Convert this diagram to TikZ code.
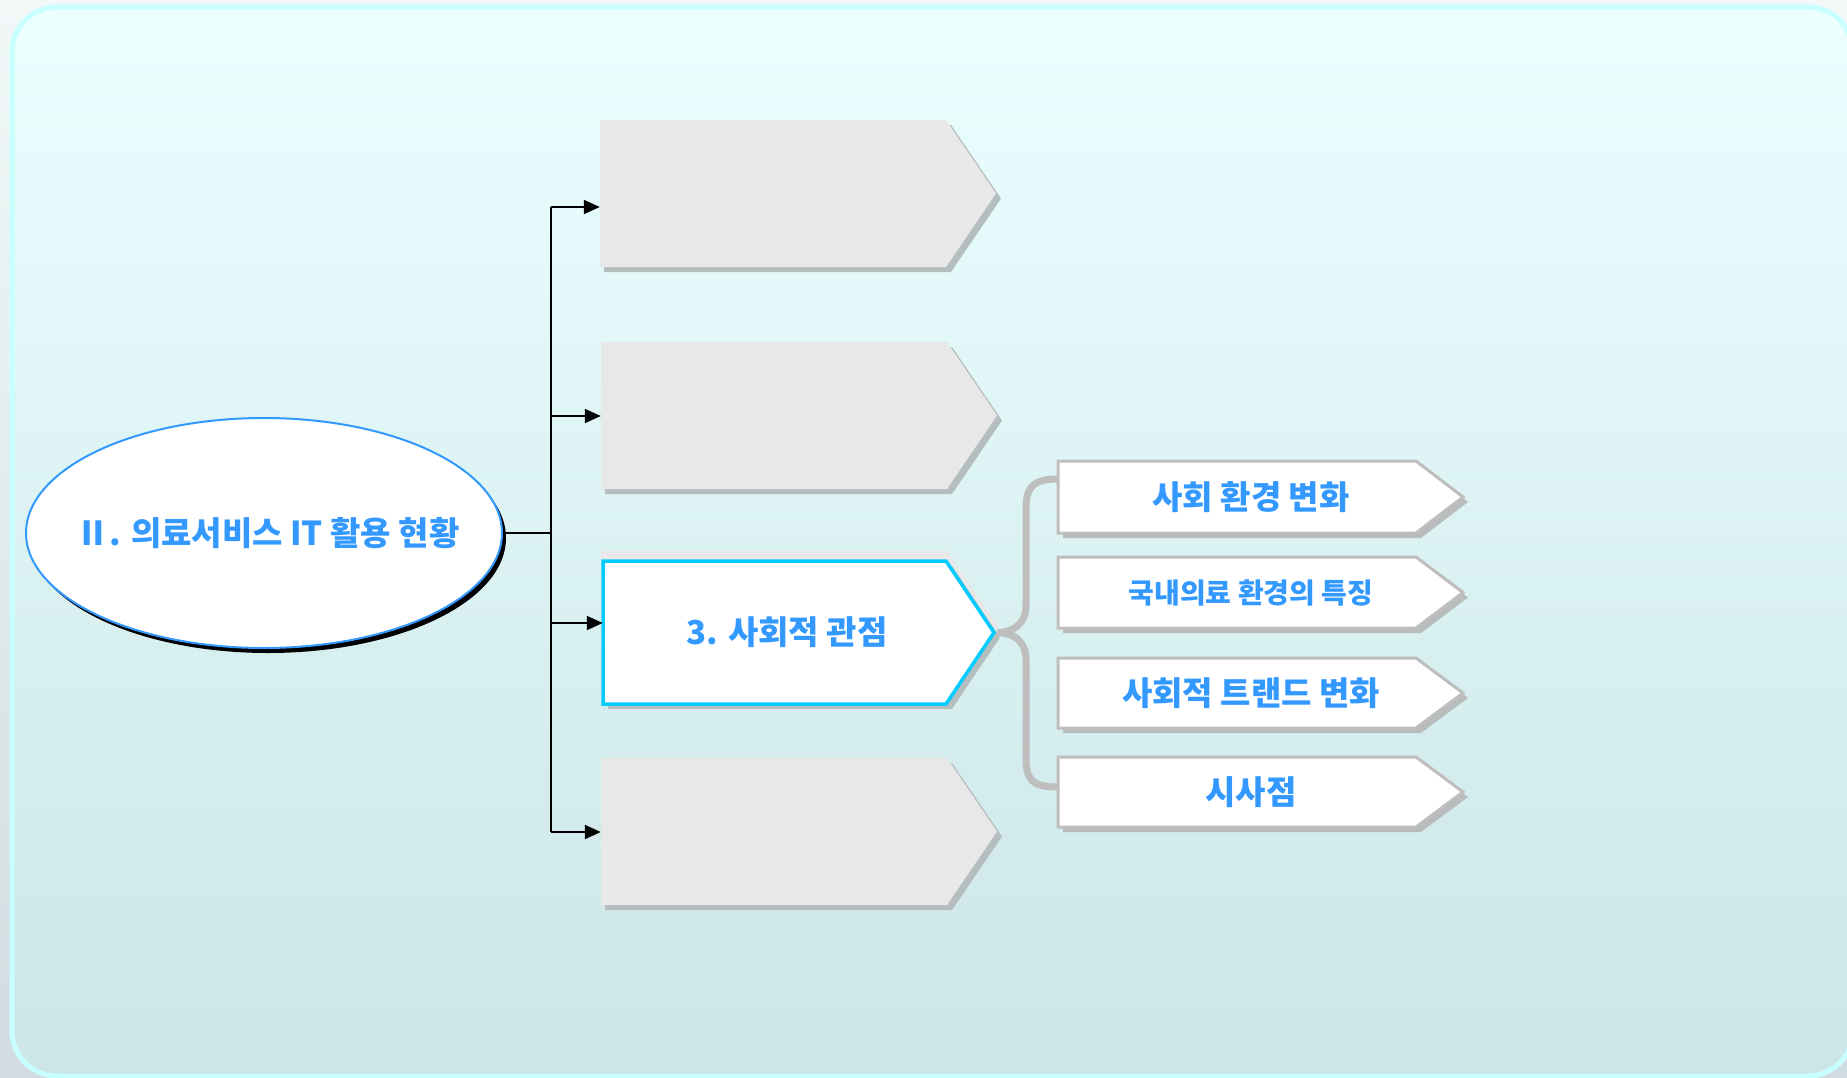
\documentclass[tikz,border=0pt]{standalone}
\usepackage{fontspec}
\newfontfamily\kr{Noto Sans CJK KR}
\usetikzlibrary{arrows.meta,shapes.geometric,calc}
\definecolor{txtblue}{HTML}{3399FF}
\definecolor{cyanb}{HTML}{00CCFF}
\definecolor{ellb}{HTML}{3399FF}
\definecolor{frame}{HTML}{C8FFFF}
\definecolor{bgtop}{HTML}{EBFFFF}
\definecolor{bgbot}{HTML}{CCE5E7}
\definecolor{outtop}{HTML}{F2F8F8}
\definecolor{outbot}{HTML}{D0DCE0}
\definecolor{boxgray}{HTML}{E8E8E8}
\definecolor{shadowgray}{HTML}{B4BEBE}
\definecolor{rgray}{HTML}{BEBEBE}
\definecolor{shadowtwo}{HTML}{B8BCBC}
\newcommand\mypenta[6]{\path[#6] (#1,#4) -- (#2,#4) -- (#3,{(#4+#5)/2}) -- (#2,#5) -- (#1,#5) -- cycle;}
\tikzset{
  conn/.style={line width=1.8pt, draw=black},
  arr/.style={conn, -{Triangle[length=16pt,width=14pt]}},
  holder/.style={draw=none, inner sep=0pt, rectangle},
  lbl/.style={text=txtblue, font=\kr\bfseries\fontsize{33}{38}\selectfont},
  lblsmall/.style={text=txtblue, font=\kr\bfseries\fontsize{28}{32}\selectfont},
  bracestyle/.style={line width=7pt, draw=rgray}
}
\begin{document}
\begin{tikzpicture}[x=1pt,y=-1pt]
\useasboundingbox (0,0) rectangle (1847,1078);
% page background
\fill[top color=outtop,bottom color=outbot] (0,0) rectangle (1847,1078);
\draw[line width=5pt, draw=frame, top color=bgtop, bottom color=bgbot, rounded corners=45pt] (12,7) rectangle (1853,1076);

% ellipse
\fill[black] (268,538) ellipse [x radius=238, y radius=115];
\node[ellipse, draw=ellb, line width=2pt, fill=white, minimum width=476pt, minimum height=230pt, inner sep=0pt] (ell) at (264,533) {};
\node[text=txtblue, font=\kr\bfseries\fontsize{33}{38}\selectfont] (ellt) at (268,533) {Ⅱ. 의료서비스 IT 활용 현황};

% grey boxes
\mypenta{604}{951}{1001}{125}{272}{fill=shadowgray}
\mypenta{600}{946}{996}{120}{267}{fill=boxgray}
\node[holder, minimum width=346pt, minimum height=147pt] (b1) at (773,193.5) {};

\mypenta{605}{952}{1002}{347}{494}{fill=shadowgray}
\mypenta{601}{947}{997}{342}{489}{fill=boxgray}
\node[holder, minimum width=346pt, minimum height=147pt] (b2) at (774,415.5) {};

\mypenta{605}{952}{1002}{763}{910}{fill=shadowgray}
\mypenta{601}{947}{997}{758}{905}{fill=boxgray}
\node[holder, minimum width=346pt, minimum height=147pt] (b4) at (774,831.5) {};

% highlighted box 3
\mypenta{601}{947}{997}{551}{698}{fill=boxgray}
\mypenta{608}{952}{1000}{566}{709}{fill=shadowgray}
\mypenta{603}{946}{994}{561}{704}{fill=white, draw=cyanb, line width=3.5pt}
\node[holder, text=txtblue, font=\kr\bfseries\fontsize{33}{38}\selectfont, minimum width=368pt, minimum height=143pt] (b3) at (787,632.5) {3. 사회적 관점};
\coordinate (b3tip) at (997,632.5);

% connectors
\coordinate (j) at (551,533);
\coordinate (v1) at (551,207);
\coordinate (v2) at (551,416);
\coordinate (v3) at (551,623);
\coordinate (v4) at (551,832);
\draw[conn] (ell.east) -- (j);
\draw[conn] (v1) -- (v4);
\draw[arr] (v1) -- (v1 -| b1.west);
\draw[arr] (v2) -- (v2 -| b2.west);
\draw[arr] (v3) -- (v3 -| b3.west);
\draw[arr] (v4) -- (v4 -| b4.west);

% right boxes
\mypenta{1063}{1421}{1468}{466}{538}{fill=shadowtwo}
\mypenta{1058}{1416}{1463}{461}{533}{fill=white, draw=rgray, line width=3pt}
\node[holder, lbl, minimum width=386pt, minimum height=72pt] (r1) at (1251,497) {사회 환경 변화};

\mypenta{1063}{1421}{1468}{562}{633}{fill=shadowtwo}
\mypenta{1058}{1416}{1463}{557}{628}{fill=white, draw=rgray, line width=3pt}
\node[holder, lblsmall, minimum width=386pt, minimum height=71pt] (r2) at (1251,592.5) {국내의료 환경의 특징};

\mypenta{1063}{1421}{1468}{663}{733}{fill=shadowtwo}
\mypenta{1058}{1416}{1463}{658}{728}{fill=white, draw=rgray, line width=3pt}
\node[holder, lbl, minimum width=386pt, minimum height=70pt] (r3) at (1251,693) {사회적 트랜드 변화};

\mypenta{1063}{1421}{1468}{762}{832}{fill=shadowtwo}
\mypenta{1058}{1416}{1463}{757}{827}{fill=white, draw=rgray, line width=3pt}
\node[holder, lbl, minimum width=386pt, minimum height=70pt] (r4) at (1251,792) {시사점};

% brace
\draw[bracestyle] ([yshift=18pt]r1.west) .. controls (1030,479) and (1026,490) .. (1026,510) -- (1026,605) .. controls (1026,625) and (1012,632.5) .. (b3tip)
  .. controls (1012,632.5) and (1026,640) .. (1026,660) -- (1026,757) .. controls (1026,780) and (1032,787) .. ([yshift=5pt]r4.west);
\end{tikzpicture}
\end{document}
